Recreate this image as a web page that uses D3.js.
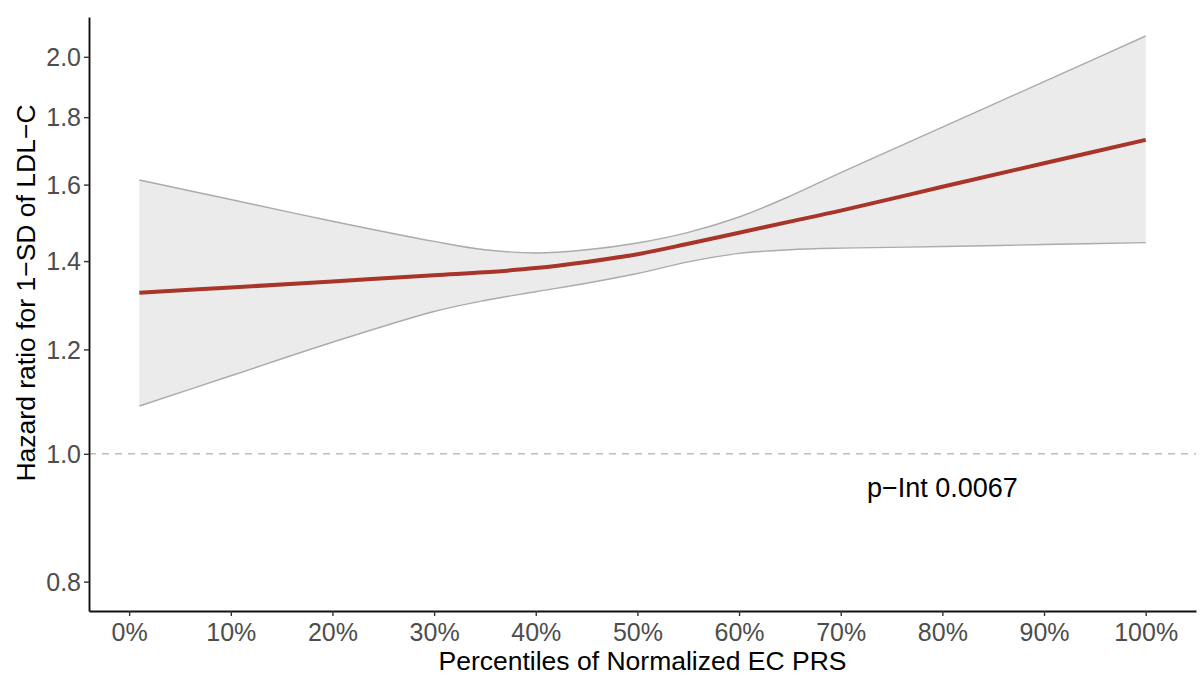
<!DOCTYPE html>
<html>
<head>
<meta charset="utf-8">
<script src="https://cdn.jsdelivr.net/npm/d3@7"></script>
<style>
  body { margin: 0; background: #fff; }
  text { font-family: "Liberation Sans", Arial, sans-serif; }
</style>
</head>
<body>
<div id="my_dataviz"></div>
<script>
// data (percentile of normalized EC PRS, HR and 95% CI)
var pct   = [1, 10, 20, 30, 35, 40, 45, 50, 55, 60, 65, 70, 80, 90, 100];
var hr    = [1.325, 1.337, 1.351, 1.366, 1.373, 1.383, 1.398, 1.417, 1.443, 1.471, 1.500, 1.529, 1.594, 1.661, 1.730];
var upper = [1.613, 1.559, 1.501, 1.449, 1.428, 1.420, 1.428, 1.445, 1.472, 1.512, 1.568, 1.634, 1.769, 1.915, 2.074];
var lower = [1.087, 1.146, 1.215, 1.282, 1.307, 1.327, 1.347, 1.370, 1.398, 1.419, 1.428, 1.432, 1.436, 1.441, 1.446];

var xTicks = [0, 10, 20, 30, 40, 50, 60, 70, 80, 90, 100];
var yTicks = [0.8, 1.0, 1.2, 1.4, 1.6, 1.8, 2.0];
var refLine = 1.0;
var pLabel = "p\u2212Int 0.0067";
var pAt = {x: 80, y: 0.942};

var data = pct.map(function(p, i) {
  return {p: p, hr: hr[i], lo: lower[i], hi: upper[i]};
});

// set the dimensions and margins of the graph
var W = 1200, H = 686;
var margin = {left: 89, right: 1196, top: 17, bottom: 611};

var svg = d3.select("#my_dataviz")
  .append("svg")
    .attr("width", W)
    .attr("height", H);

var x = d3.scaleLinear()
  .domain([-3.95, 104.95])
  .range([margin.left, margin.right]);

var y = d3.scaleLog()
  .domain([0.76, 2.144])
  .range([margin.bottom, margin.top]);

var curve = d3.curveCatmullRom.alpha(0.5);

// ribbon
svg.append("path")
  .datum(data)
  .attr("fill", "#ebebeb")
  .attr("d", d3.area()
    .curve(curve)
    .x(function(d) { return x(d.p) })
    .y0(function(d) { return y(d.lo) })
    .y1(function(d) { return y(d.hi) }));

["lo", "hi"].forEach(function(k) {
  svg.append("path")
    .datum(data)
    .attr("fill", "none")
    .attr("stroke", "#ababab")
    .attr("stroke-width", 1.4)
    .attr("d", d3.line()
      .curve(curve)
      .x(function(d) { return x(d.p) })
      .y(function(d) { return y(d[k]) }));
});

// reference line at HR = 1
svg.append("line")
  .attr("x1", margin.left).attr("x2", margin.right)
  .attr("y1", y(refLine)).attr("y2", y(refLine))
  .attr("stroke", "#bdbdbd")
  .attr("stroke-width", 1.4)
  .attr("stroke-dasharray", "7,6");

// the estimate
svg.append("path")
  .datum(data)
  .attr("fill", "none")
  .attr("stroke", "#a8342a")
  .attr("stroke-width", 4)
  .attr("d", d3.line()
    .curve(curve)
    .x(function(d) { return x(d.p) })
    .y(function(d) { return y(d.hr) }));

// Add Y axis
var yAxisG = svg.append("g")
  .attr("transform", "translate(" + margin.left + ",0)")
  .call(d3.axisLeft(y).tickValues(yTicks).tickFormat(d3.format(".1f")).tickSize(5).tickSizeOuter(0).tickPadding(3));

// Add X axis
var xAxisG = svg.append("g")
  .attr("transform", "translate(0," + margin.bottom + ")")
  .call(d3.axisBottom(x).tickValues(xTicks).tickFormat(function(d) { return d + "%" }).tickSize(5).tickSizeOuter(0).tickPadding(4));

[yAxisG, xAxisG].forEach(function(g) {
  g.select(".domain").attr("stroke", "#111").attr("stroke-width", 1.9);
  g.selectAll(".tick line").attr("stroke", "#333").attr("stroke-width", 1.4);
  g.selectAll(".tick text")
    .attr("fill", "#4d4d4d")
    .style("font-size", "25px");
});
yAxisG.selectAll(".tick text").attr("dy", "0.35em");
xAxisG.selectAll(".tick text").attr("dy", "0.84em");

// axis titles
svg.append("text")
  .attr("x", (margin.left + margin.right) / 2)
  .attr("y", 670)
  .attr("text-anchor", "middle")
  .attr("fill", "#000")
  .style("font-size", "26.5px")
  .text("Percentiles of Normalized EC PRS");

svg.append("text")
  .attr("transform", "translate(35,293) rotate(-90)")
  .attr("text-anchor", "middle")
  .attr("fill", "#000")
  .style("font-size", "26.5px")
  .text("Hazard ratio for 1\u2212SD of LDL\u2212C");

// interaction p-value
svg.append("text")
  .attr("x", x(pAt.x))
  .attr("y", y(pAt.y))
  .attr("text-anchor", "middle")
  .attr("dy", "0.35em")
  .attr("fill", "#000")
  .style("font-size", "27px")
  .text(pLabel);
</script>
</body>
</html>
